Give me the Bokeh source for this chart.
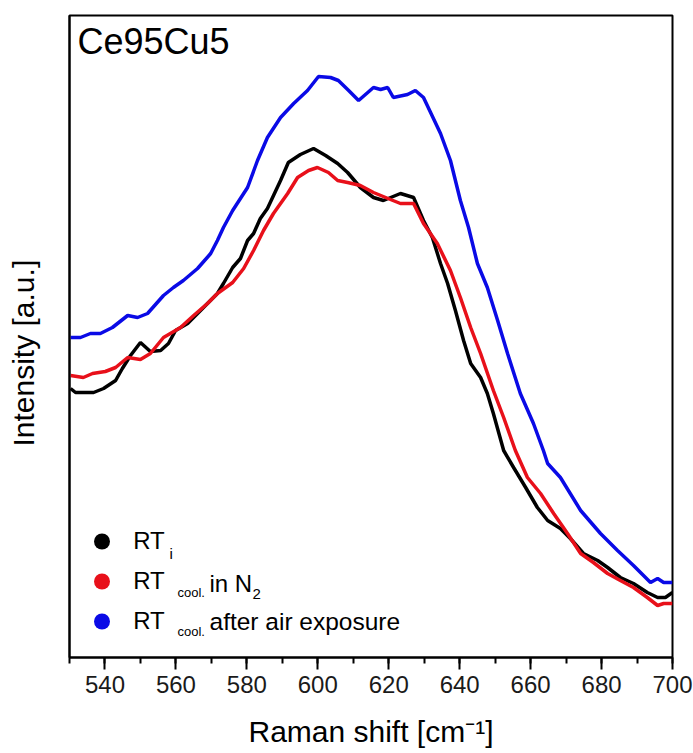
from bokeh.plotting import figure
from bokeh.models import Label, Legend, LegendItem, Range1d, SingleIntervalTicker, FixedTicker
from bokeh.embed import file_html
from bokeh.resources import INLINE

# ---- data (Raman shift in cm^-1, intensity in arbitrary units) ----
shift_rt_i = [530.3, 531.7, 536.8, 539.6, 543.0, 544.9, 547.2, 550.0, 552.8, 555.7,
              557.9, 559.9, 563.3, 566.1, 568.9, 571.7, 573.4, 576.0, 578.2, 580.2,
              581.9, 583.8, 585.8, 589.5, 591.7, 595.1, 598.8, 602.2, 605.6, 608.4,
              612.0, 615.7, 618.5, 623.3, 627.0, 629.8, 632.3, 634.6, 636.6, 638.8,
              641.1, 643.1, 645.9, 647.8, 649.5, 652.4, 655.2, 658.6, 661.9, 664.8,
              668.4, 671.2, 674.9, 678.9, 681.7, 685.3, 689.0, 692.9, 695.8, 698.0, 700.0]
int_rt_i = [269, 265, 265, 269, 277, 289, 302, 315, 306, 307,
            314, 327, 334, 344, 354, 364, 374, 390, 399, 417,
            424, 439, 449, 477, 495, 503, 509, 502, 494, 485,
            470, 460, 457, 464, 460, 437, 420, 394, 374, 347,
            317, 294, 280, 264, 244, 207, 190, 170, 150, 137,
            129, 119, 104, 97, 90, 80, 74, 65, 60, 60, 65]

shift_rt_n2 = [530.3, 533.9, 536.5, 540.1, 543.0, 546.4, 550.0, 552.8, 556.5, 561.3,
               565.0, 568.9, 571.7, 576.0, 579.1, 581.9, 584.7, 587.5, 591.5, 594.3,
               597.4, 599.9, 603.0, 605.6, 608.4, 612.0, 615.7, 620.5, 623.3, 627.0,
               629.8, 633.7, 637.4, 640.2, 643.1, 645.9, 649.5, 652.4, 655.7, 659.1,
               662.8, 666.5, 670.4, 674.1, 677.7, 681.7, 685.3, 689.0, 692.9, 695.8,
               697.5, 700.0]
int_rt_n2 = [282, 280, 284, 286, 290, 300, 298, 304, 320, 330,
             342, 354, 364, 375, 389, 407, 427, 444, 464, 480,
             487, 490, 485, 477, 475, 472, 465, 458, 454, 454,
             434, 414, 387, 360, 330, 304, 267, 240, 207, 180,
             164, 144, 124, 104, 95, 84, 77, 70, 60, 52,
             54, 54]

shift_rt_air = [530.3, 533.1, 535.9, 538.7, 542.1, 546.4, 549.2, 552.0, 556.5, 559.3,
                562.1, 566.1, 569.8, 571.7, 573.4, 576.0, 580.2, 583.0, 585.8, 589.5,
                593.2, 597.1, 600.2, 603.6, 605.8, 608.7, 611.5, 615.7, 617.7, 619.7,
                621.3, 625.3, 627.5, 629.8, 634.6, 637.4, 640.2, 642.5, 645.0, 647.8,
                650.7, 653.5, 657.1, 660.8, 663.6, 664.8, 668.4, 674.1, 679.7, 684.5,
                689.0, 693.8, 695.8, 697.5, 700.0]
int_rt_air = [320, 320, 324, 324, 330, 342, 340, 344, 362, 370,
              377, 389, 404, 417, 430, 447, 470, 497, 520, 540,
              554, 567, 581, 580, 577, 567, 557, 570, 568, 570,
              560, 563, 567, 560, 524, 497, 457, 430, 394, 370,
              337, 304, 264, 234, 207, 194, 180, 147, 124, 107,
              92, 75, 79, 75, 75]

series_colors = ["#000000", "#e8101a", "#0a0ae6"]
x_ticks_interval = 20

FONT = "Liberation Sans"
W, H = 693, 753
FL, FR, FT, FB = 69, 672, 15, 657

p = figure(width=W, height=H, x_range=Range1d(530, 700), y_range=Range1d(0, 642),
           output_backend="svg", toolbar_location=None,
           min_border_left=FL, min_border_right=W - FR, min_border_top=FT,
           min_border_bottom=H - FB, background_fill_color="white",
           border_fill_color="white")

p.xgrid.visible = False
p.ygrid.visible = False
p.outline_line_color = "black"
p.outline_line_width = 2
p.outline_line_alpha = 1

ax = p.xaxis[0]
ax.ticker = SingleIntervalTicker(interval=x_ticks_interval, num_minor_ticks=2)
ax.axis_line_width = 2
ax.major_tick_line_width = 2
ax.minor_tick_line_width = 2
ax.major_tick_out = 12
ax.major_tick_in = 0
ax.minor_tick_out = 6
ax.minor_tick_in = 0
ax.major_label_text_font = FONT
ax.major_label_text_font_size = "24px"
ax.major_label_text_color = "#1a1a1a"
ax.major_label_standoff = 6
ax.axis_label = "Raman shift [cm\u207b\u00b9]"
ax.axis_label_text_font = FONT
ax.axis_label_text_font_size = "30px"
ax.axis_label_text_font_style = "normal"
ax.axis_label_text_color = "black"
ax.axis_label_standoff = 19

ay = p.yaxis[0]
ay.ticker = FixedTicker(ticks=[])
ay.axis_line_width = 2
ay.major_tick_out = 0
ay.major_tick_in = 0
ay.minor_tick_out = 0
ay.minor_tick_in = 0
ay.axis_label = "Intensity [a.u.]" + "\u00a0" * 4
ay.axis_label_text_font = FONT
ay.axis_label_text_font_size = "30px"
ay.axis_label_text_font_style = "normal"
ay.axis_label_text_color = "black"
ay.axis_label_standoff = 30

p.line(shift_rt_i, int_rt_i, line_width=3.5, color=series_colors[0])
p.line(shift_rt_n2, int_rt_n2, line_width=3.5, color=series_colors[1])
p.line(shift_rt_air, int_rt_air, line_width=3.5, color=series_colors[2])


def add_text(cx, cy, text, size):
    # cy is the visual centre line of the text (as rendered)
    p.add_layout(Label(x=cx - FL, y=FB - cy, x_units="screen", y_units="screen",
                       text=text, text_font=FONT, text_font_size=f"{size}px",
                       text_color="black", text_align="left",
                       text_baseline="alphabetic"))


# legend markers (NaN points: nothing drawn in the plot, only the legend symbol)
nan = float("nan")
leg_r = [p.scatter(x=[nan], y=[nan], marker="circle", size=16, color=c, line_alpha=0)
         for c in series_colors]
legend = Legend(items=[LegendItem(label="RT", renderers=[r]) for r in leg_r],
                location=(11.2, 16), glyph_width=43, glyph_height=40,
                label_standoff=10, spacing=0, padding=0, margin=0,
                border_line_color=None, background_fill_alpha=0,
                label_text_font=FONT, label_text_font_size="24px",
                label_text_color="black", label_height=40)
p.add_layout(legend)

# subscripts and rest of legend texts
add_text(169, 553, "i", 15)
add_text(177, 592, "cool.", 13)
add_text(209, 583, "in N", 24)
add_text(252, 593, "2", 15)
add_text(177, 631, "cool.", 13)
add_text(209, 621, "after air exposure", 24.5)

# sample label
add_text(77, 41, "Ce95Cu5", 36)

open("out.html", "w").write(file_html(p, INLINE))
